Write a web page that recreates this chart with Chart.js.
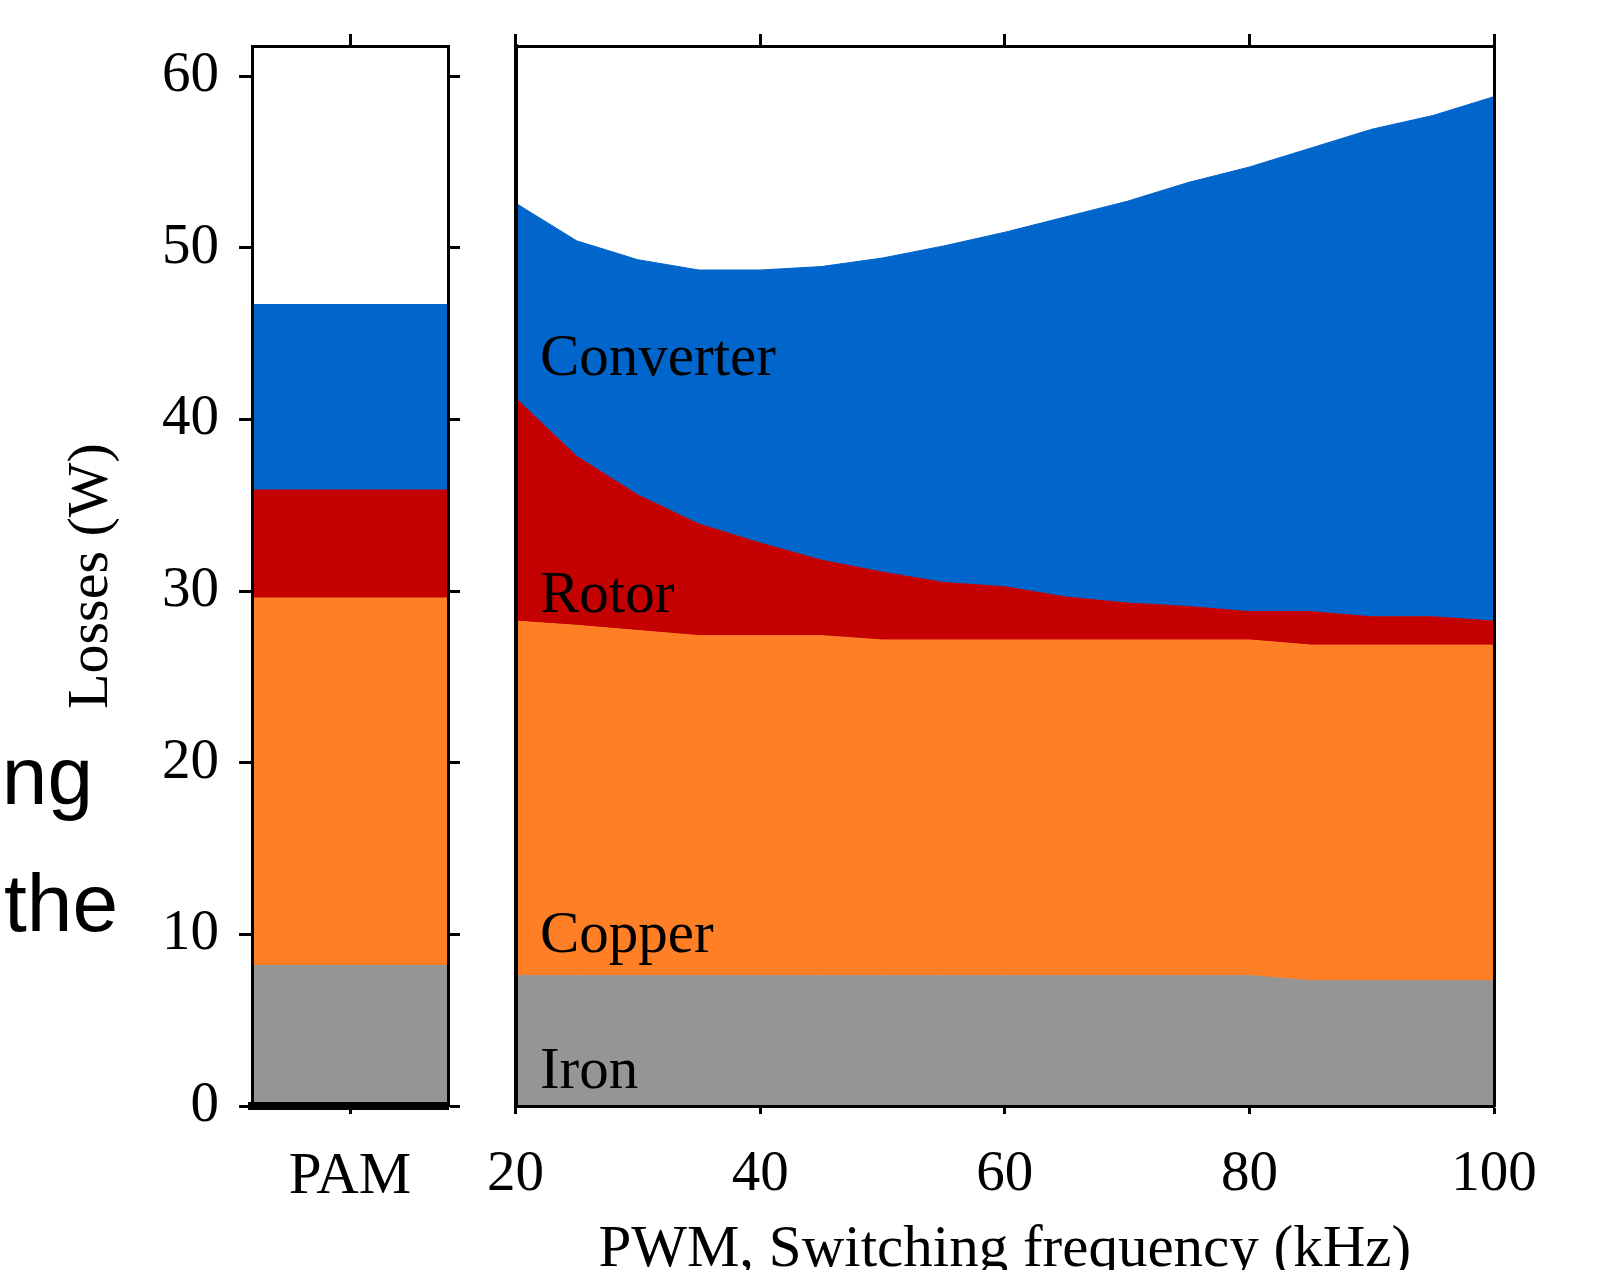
<!DOCTYPE html>
<html>
<head>
<meta charset="utf-8">
<title>Losses: PAM vs PWM</title>
<script src="https://cdn.jsdelivr.net/npm/chart.js@4.4.1/dist/chart.umd.min.js"></script>
<style>
    html, body { margin: 0; padding: 0; background: #fff; overflow: hidden; }
    #page { position: relative; width: 1597px; height: 1270px; overflow: hidden; background: #fff; }
    .box { position: absolute; top: 0; height: 1300px; }
    #pam-box { left: 0; width: 520px; }
    #pwm-box { left: 460px; width: 1137px; }
    .frag {
        position: absolute; text-align: right; white-space: nowrap;
        font-family: "Liberation Sans", Arial, sans-serif; font-size: 82px; line-height: 82px; color: #000;
    }
</style>
</head>
<body>
<div id="page">
    <div class="frag" id="frag-1">ng</div>
    <div class="frag" id="frag-2">the</div>
    <div class="box" id="pam-box"><canvas id="pamChart" width="520" height="1300"></canvas></div>
    <div class="box" id="pwm-box"><canvas id="pwmChart" width="1137" height="1300"></canvas></div>
</div>
<script>
// --- data ---
const pamLabels = ['PAM'];
const ironPAM = [8.2];
const copperPAM = [21.4];
const rotorPAM = [6.3];
const converterPAM = [10.8];

const freqKHz = [20, 25, 30, 35, 40, 45, 50, 55, 60, 65, 70, 75, 80, 85, 90, 95, 100];
const ironPWM = [7.6, 7.6, 7.6, 7.6, 7.6, 7.6, 7.6, 7.6, 7.6, 7.6, 7.6, 7.6, 7.6, 7.3, 7.3, 7.3, 7.3];
const copperPWM = [20.65, 20.4, 20.1, 19.8, 19.8, 19.8, 19.55, 19.55, 19.55, 19.55, 19.55, 19.55, 19.55, 19.55, 19.55, 19.55, 19.55];
const rotorPWM = [13.0, 9.85, 7.9, 6.5, 5.4, 4.4, 3.95, 3.35, 3.1, 2.5, 2.15, 1.95, 1.65, 1.95, 1.65, 1.65, 1.4];
const converterPWM = [11.35, 12.55, 13.7, 14.8, 15.9, 17.1, 18.3, 19.6, 20.65, 22.15, 23.4, 24.7, 25.9, 27.0, 28.4, 29.2, 30.55];

const yMin = 0, yMax = 61.75, yStep = 10;
const xMin = 20, xMax = 100, xStep = 20;

const areaNames = ['Converter', 'Rotor', 'Copper', 'Iron'];

// --- styling ---
const SERIF = '"Liberation Serif", "Times New Roman", serif';
const colors = { iron: '#959595', copper: '#FF7F27', rotor: '#C40000', converter: '#0066CC' };

// cropped slide text on the left edge (right edge, top)
const frag1 = document.getElementById('frag-1');
frag1.style.right = (1597 - 93) + 'px';
frag1.style.top = '735px';
const frag2 = document.getElementById('frag-2');
frag2.style.right = (1597 - 118) + 'px';
frag2.style.top = '862px';

Chart.defaults.font.family = SERIF;
Chart.defaults.color = '#000';

function keepSteps(axis) {
    axis.ticks = axis.ticks.filter(t => Math.abs(t.value / yStep - Math.round(t.value / yStep)) < 1e-6);
}

// left panel: PAM stacked bar
const pamChart = new Chart(document.getElementById('pamChart'), {
    type: 'bar',
    data: {
        labels: pamLabels,
        datasets: [
            { label: 'Iron', data: ironPAM, backgroundColor: colors.iron },
            { label: 'Copper', data: copperPAM, backgroundColor: colors.copper },
            { label: 'Rotor', data: rotorPAM, backgroundColor: colors.rotor },
            { label: 'Converter', data: converterPAM, backgroundColor: colors.converter }
        ]
    },
    options: {
        responsive: false,
        animation: false,
        events: [],
        devicePixelRatio: 1,
        layout: { padding: 0 },
        categoryPercentage: 1,
        barPercentage: 1,
        plugins: { legend: { display: false }, tooltip: { enabled: false } },
        scales: {
            x: {
                stacked: true,
                offset: true,
                position: 'bottom',
                grid: { drawOnChartArea: false, offset: false, tickLength: 8, tickWidth: 3, tickColor: '#000' },
                border: { display: true, color: '#000', width: 8, z: 1 },
                ticks: { font: { size: 59 }, padding: 28, maxRotation: 0 },
                afterFit: s => { s.height = 194; s.paddingLeft = 0; s.paddingRight = 0; }
            },
            x2: {
                type: 'category',
                labels: pamLabels,
                offset: true,
                position: 'top',
                grid: { drawOnChartArea: false, offset: false, tickLength: 12, tickWidth: 3, tickColor: '#000' },
                border: { display: true, color: '#000', width: 3, z: 1 },
                ticks: { display: false },
                afterFit: s => { s.height = 46; }
            },
            y: {
                stacked: true,
                min: yMin, max: yMax,
                position: 'left',
                grid: { drawOnChartArea: false, tickLength: 13, tickWidth: 3, tickColor: '#000' },
                border: { display: true, color: '#000', width: 3, z: 1 },
                ticks: { stepSize: yStep, includeBounds: false, font: { size: 57 }, padding: 20 },
                afterBuildTicks: keepSteps,
                title: {
                    display: true, text: 'Losses (W)', color: '#000',
                    font: { size: 58, family: SERIF }, padding: { top: 57, bottom: 0 }
                },
                afterFit: s => { s.width = 252; s.paddingTop = 0; s.paddingBottom = 0; }
            },
            y2: {
                type: 'linear',
                min: yMin, max: yMax,
                position: 'right',
                grid: { drawOnChartArea: false, tickLength: 12, tickWidth: 3, tickColor: '#000' },
                border: { display: true, color: '#000', width: 3, z: 1 },
                ticks: { stepSize: yStep, includeBounds: false, display: false },
                afterBuildTicks: keepSteps,
                afterFit: s => { s.width = 72; s.paddingTop = 0; s.paddingBottom = 0; }
            }
        }
    }
});

// right panel: PWM stacked areas
function layer(label, values, color, fill) {
    return {
        label: label,
        data: freqKHz.map((f, i) => ({ x: f, y: values[i] })),
        backgroundColor: color,
        borderColor: color,
        borderWidth: 1,
        pointRadius: 0,
        tension: 0,
        fill: fill
    };
}

// text anchors in data units (kHz, W at the baseline)
const nameAnchors = [[22, 42.6], [22, 28.8], [22, 9.0], [22, 1.05]];

const areaNamePlugin = {
    id: 'areaNames',
    afterDatasetsDraw(chart) {
        const ctx = chart.ctx;
        const x = chart.scales.x, y = chart.scales.y;
        ctx.save();
        ctx.font = '59px ' + SERIF;
        ctx.fillStyle = '#000';
        ctx.textAlign = 'left';
        ctx.textBaseline = 'alphabetic';
        areaNames.forEach((name, i) => {
            ctx.fillText(name, x.getPixelForValue(nameAnchors[i][0]), y.getPixelForValue(nameAnchors[i][1]));
        });
        ctx.restore();
    }
};

const pwmChart = new Chart(document.getElementById('pwmChart'), {
    type: 'line',
    data: {
        datasets: [
            layer('Iron', ironPWM, colors.iron, 'origin'),
            layer('Copper', copperPWM, colors.copper, '-1'),
            layer('Rotor', rotorPWM, colors.rotor, '-1'),
            layer('Converter', converterPWM, colors.converter, '-1')
        ]
    },
    options: {
        responsive: false,
        animation: false,
        events: [],
        devicePixelRatio: 1,
        layout: { padding: 0 },
        plugins: { legend: { display: false }, tooltip: { enabled: false } },
        scales: {
            x: {
                type: 'linear',
                min: xMin, max: xMax,
                position: 'bottom',
                grid: { drawOnChartArea: false, tickLength: 8, tickWidth: 3, tickColor: '#000' },
                border: { display: true, color: '#000', width: 3, z: 1 },
                ticks: { stepSize: xStep, font: { size: 57 }, padding: 27, maxRotation: 0, autoSkip: false },
                title: {
                    display: true, text: 'PWM, Switching frequency (kHz)', color: '#000',
                    font: { size: 59, family: SERIF }, padding: { top: 0, bottom: 14 }
                },
                afterFit: s => { s.height = 194; }
            },
            x2: {
                type: 'linear',
                min: xMin, max: xMax,
                position: 'top',
                grid: { drawOnChartArea: false, tickLength: 12, tickWidth: 3, tickColor: '#000' },
                border: { display: true, color: '#000', width: 3, z: 1 },
                ticks: { stepSize: xStep, display: false },
                afterFit: s => { s.height = 46; }
            },
            y: {
                stacked: true,
                min: yMin, max: yMax,
                position: 'left',
                grid: { drawOnChartArea: false, drawTicks: false },
                border: { display: true, color: '#000', width: 4, z: 1 },
                ticks: { display: false, stepSize: yStep },
                afterFit: s => { s.width = 55; }
            },
            y2: {
                type: 'linear',
                min: yMin, max: yMax,
                position: 'right',
                grid: { drawOnChartArea: false, drawTicks: false },
                border: { display: true, color: '#000', width: 3, z: 1 },
                ticks: { display: false },
                afterFit: s => { s.width = 103; }
            }
        }
    },
    plugins: [areaNamePlugin]
});
</script>
</body>
</html>
